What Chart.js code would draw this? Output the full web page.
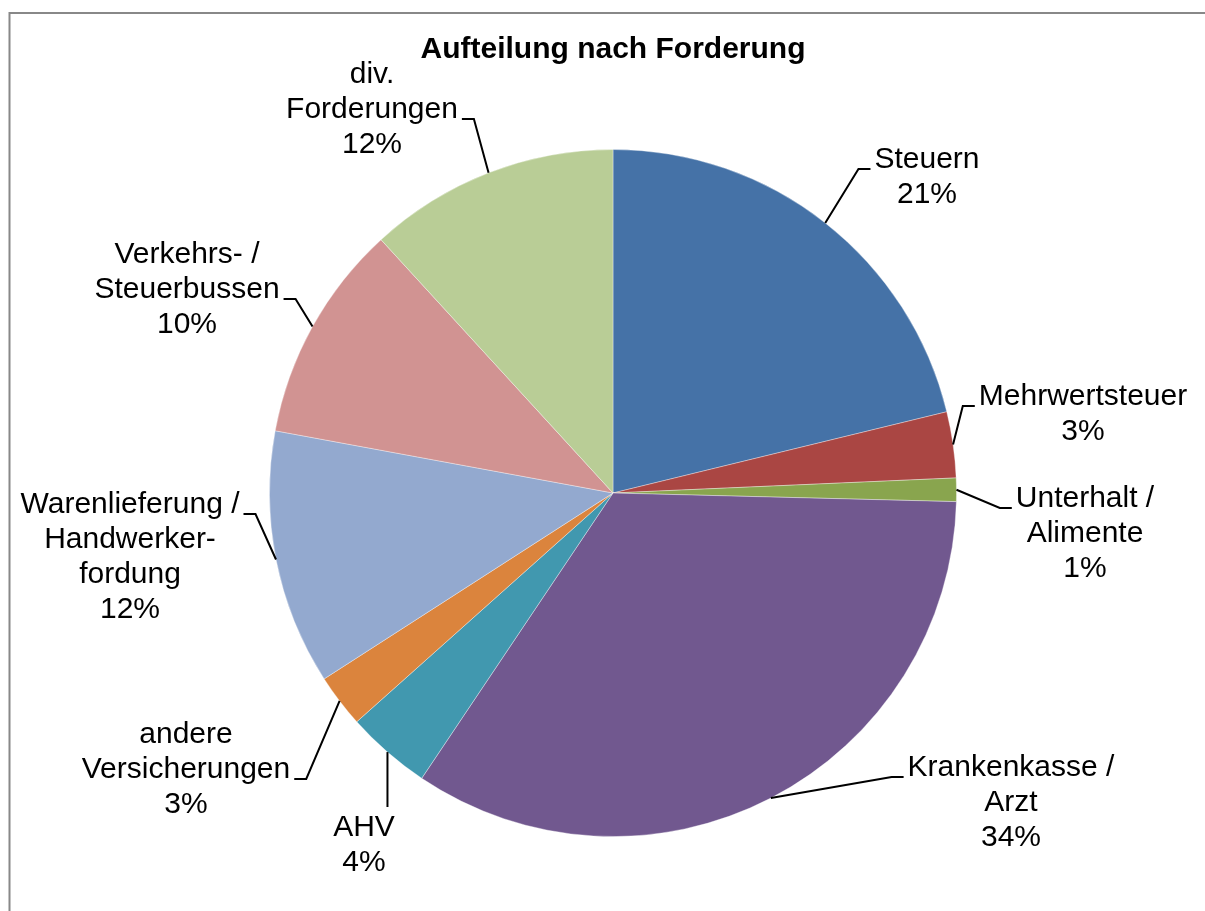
<!DOCTYPE html>
<html>
<head>
<meta charset="utf-8">
<title>Aufteilung nach Forderung</title>
<script src="https://cdn.jsdelivr.net/npm/chart.js@4.4.1/dist/chart.umd.min.js"></script>
<style>
  html, body { margin: 0; padding: 0; background: #fff; }
  #wrap { width: 1205px; height: 911px; }
</style>
</head>
<body>
<div id="wrap"><canvas id="pieChart" width="1205" height="911"></canvas></div>
<script>
// Daten (Anteile in %)
const categories = [
    'Steuern',
    'Mehrwertsteuer',
    'Unterhalt /\nAlimente',
    'Krankenkasse /\nArzt',
    'AHV',
    'andere\nVersicherungen',
    'Warenlieferung /\nHandwerker-\nfordung',
    'Verkehrs- /\nSteuerbussen',
    'div.\nForderungen'
];
const shares = [21.2, 3.1, 1.1, 34.0, 4.0, 2.5, 12.0, 10.3, 11.8];

const sliceColors = ['#4572A7', '#AA4643', '#89A54E', '#71588F', '#4198AF', '#DB843D', '#93A9CF', '#D19392', '#B9CD96'];

// Platzierung der Beschriftungen (Textmitte x, erste Grundlinie y, Zeile mit Führungslinie, Seite)
const labelPos = [
    { cx: 927, y: 168, line: 0, side: 'right' },
    { cx: 1083, y: 405, line: 0, side: 'right' },
    { cx: 1085, y: 507, line: 0, side: 'right' },
    { cx: 1011, y: 776, line: 0, side: 'right' },
    { cx: 364, y: 836, line: 0, side: 'below' },
    { cx: 186, y: 743, line: 1, side: 'left' },
    { cx: 130, y: 513, line: 0, side: 'left' },
    { cx: 187, y: 263, line: 1, side: 'left' },
    { cx: 372, y: 83, line: 1, side: 'left' }
];

const FONT = '"Liberation Sans", Arial, sans-serif';
const LINE_H = 35;

const leaderLabels = {
    id: 'leaderLabels',
    beforeDraw(chart) {
        // Rahmen
        const ctx = chart.ctx;
        ctx.save();
        ctx.strokeStyle = '#888';
        ctx.lineWidth = 2;
        ctx.beginPath();
        ctx.moveTo(9.5, 915);
        ctx.lineTo(9.5, 13);
        ctx.lineTo(1210, 13);
        ctx.stroke();
        ctx.restore();
    },
    afterDatasetsDraw(chart) {
        const ctx = chart.ctx;
        const meta = chart.getDatasetMeta(0);
        const total = shares.reduce((a, b) => a + b, 0);
        ctx.save();
        ctx.font = '30px ' + FONT;
        ctx.fillStyle = '#000';
        ctx.strokeStyle = '#000';
        ctx.lineWidth = 2;
        ctx.textAlign = 'center';
        ctx.textBaseline = 'alphabetic';
        meta.data.forEach((arc, i) => {
            const p = labelPos[i];
            const lines = categories[i].split('\n').concat(Math.round(shares[i] / total * 100) + '%');
            const { x, y, startAngle, endAngle, outerRadius } =
                arc.getProps(['x', 'y', 'startAngle', 'endAngle', 'outerRadius'], true);
            const mid = (startAngle + endAngle) / 2;
            const ex = x + Math.cos(mid) * outerRadius;
            const ey = y + Math.sin(mid) * outerRadius;

            ctx.beginPath();
            ctx.moveTo(ex, ey);
            if (p.side === 'below') {
                ctx.lineTo(ex, p.y - 29);
            } else {
                const w = ctx.measureText(lines[p.line]).width;
                const ly = p.y + p.line * LINE_H + 1;
                const dir = p.side === 'right' ? -1 : 1;
                const edge = p.cx + dir * w / 2;
                const near = edge + dir * 4;
                const far = near + dir * 12;
                ctx.lineTo(far, ly);
                ctx.lineTo(near, ly);
            }
            ctx.stroke();

            lines.forEach((t, k) => ctx.fillText(t, p.cx, p.y + k * LINE_H));
        });
        ctx.restore();
    }
};

const ctxPie = document.getElementById('pieChart').getContext('2d');
new Chart(ctxPie, {
    type: 'pie',
    data: {
        labels: categories,
        datasets: [{
            data: shares,
            backgroundColor: sliceColors,
            borderColor: 'rgba(255,255,255,0.35)',
            borderWidth: 1,
            hoverOffset: 0
        }]
    },
    options: {
        responsive: false,
        animation: false,
        events: [],
        layout: { padding: { top: 31.6, left: 269, right: 248, bottom: 74 } },
        plugins: {
            legend: { display: false },
            tooltip: { enabled: false },
            title: {
                display: true,
                text: 'Aufteilung nach Forderung',
                color: '#000',
                font: { family: FONT, size: 30, weight: 'bold' },
                padding: { top: 0, bottom: 81.4 }
            }
        }
    },
    plugins: [leaderLabels]
});
</script>
</body>
</html>
